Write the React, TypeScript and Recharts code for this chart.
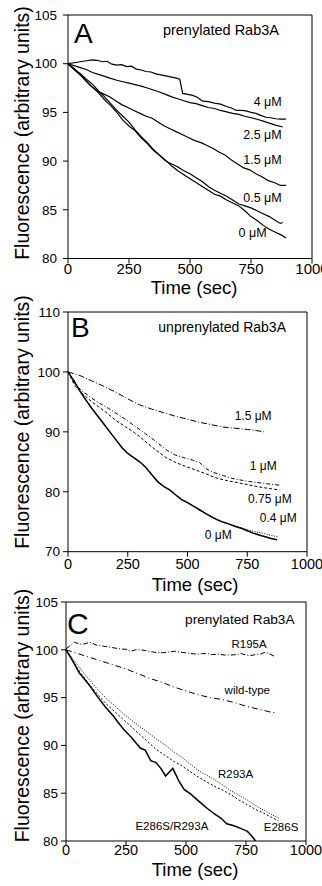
import React from 'react';
import { LineChart, Line, XAxis, YAxis, ReferenceDot, ReferenceLine, Label } from 'recharts';

type P = [number, number];
const toData = (pts: P[]) => pts.map(([t, v]) => ({ t, v }));
const FONT = '"Liberation Sans", Arial, Helvetica, sans-serif';

const xTicks = [0, 250, 500, 750, 1000];

// ---------- Panel A: prenylated Rab3A ----------
const aYTicks = [80, 85, 90, 95, 100, 105];
const a4uM: P[] = [[0,100],[25,100.1],[50,100.2],[75,100.3],[100,100.4],[120,100.35],[140,100.2],[160,100.25],[180,99.95],[200,99.85],[220,99.9],[240,99.7],[260,99.75],[280,99.45],[300,99.35],[320,99.2],[340,99.15],[360,98.95],[380,98.85],[400,98.75],[420,98.65],[440,98.55],[458,98.4],[470,96.95],[490,96.85],[511,96.75],[530,96.55],[552,96.15],[575,96.1],[600,95.95],[625,95.85],[650,95.6],[670,95.45],[690,95.2],[710,95.2],[730,95.15],[750,95.0],[770,94.9],[790,94.7],[811,94.5],[830,94.45],[852,94.35],[870,94.3],[893,94.3]];
const a25uM: P[] = [[0,100],[25,99.8],[50,99.6],[75,99.4],[100,99.1],[125,98.9],[150,98.7],[175,98.5],[200,98.3],[225,98.15],[250,98.0],[275,97.85],[300,97.7],[325,97.5],[350,97.3],[375,97.1],[400,96.85],[425,96.6],[450,96.4],[475,96.2],[500,96.0],[525,95.9],[550,95.7],[575,95.5],[600,95.4],[625,95.2],[650,95.05],[675,94.9],[700,94.8],[725,94.6],[750,94.45],[775,94.3],[800,94.1],[825,93.9],[850,93.7],[880,93.5]];
const a15uM: P[] = [[0,100],[30,99.3],[60,98.6],[90,97.8],[120,97.2],[145,96.9],[170,96.6],[195,96.2],[220,95.8],[245,95.5],[270,95.2],[295,94.9],[320,94.6],[345,94.4],[370,94.0],[395,93.6],[420,93.3],[445,93.0],[470,92.7],[495,92.4],[520,92.1],[545,91.9],[570,91.6],[595,91.3],[620,90.9],[645,90.6],[670,90.1],[695,89.7],[720,89.3],[745,89.1],[770,88.7],[795,88.4],[820,88.0],[845,87.8],[870,87.5],[893,87.5]];
const a05uM: P[] = [[0,100],[25,99.4],[50,99.0],[75,98.4],[100,97.9],[125,97.2],[150,96.6],[175,95.9],[200,95.2],[225,94.6],[250,94.0],[275,93.2],[300,92.5],[325,91.9],[350,91.2],[375,90.6],[400,90.0],[425,89.7],[450,89.4],[475,89.0],[500,88.7],[525,88.3],[550,87.9],[575,87.4],[600,87.0],[625,86.7],[650,86.4],[675,86.0],[700,85.6],[725,85.4],[750,85.2],[775,84.9],[800,84.6],[825,84.3],[850,83.9],[870,83.6],[880,83.7]];
const a0uM: P[] = [[0,100],[25,99.5],[50,98.9],[75,98.2],[100,97.6],[125,97.0],[150,96.3],[175,95.7],[200,95.0],[225,94.2],[250,93.6],[275,93.1],[300,92.4],[325,91.8],[350,91.1],[375,90.6],[400,90.1],[425,89.5],[450,89.0],[475,88.6],[500,88.2],[525,87.8],[550,87.4],[575,87.0],[600,86.6],[625,86.4],[650,86.0],[675,85.7],[700,85.4],[725,84.9],[750,84.3],[775,83.9],[800,83.4],[825,83.0],[850,82.7],[875,82.4],[893,82.1]];

// ---------- Panel B: unprenylated Rab3A ----------
const bYTicks = [70, 80, 90, 100, 110];
const b15uM: P[] = [[0,100],[50,99.4],[100,98.5],[150,97.6],[200,96.6],[250,95.5],[300,94.5],[350,93.8],[400,93.2],[450,92.6],[500,92.1],[550,91.6],[600,91.2],[650,90.8],[700,90.6],[750,90.4],[790,90.2],[820,90.0]];
const b1uM: P[] = [[0,100],[30,97.9],[60,96.8],[100,95.6],[135,94.7],[170,93.9],[205,93.0],[240,92.1],[275,91.1],[310,90.1],[345,89.1],[380,88.0],[415,86.9],[450,86.1],[485,85.7],[520,85.3],[550,84.9],[580,83.8],[610,83.2],[650,82.7],[690,82.2],[730,81.9],[760,81.7],[800,81.5],[840,81.3],[885,81.1]];
const b075uM: P[] = [[0,100],[30,97.6],[60,96.4],[100,95.0],[135,94.0],[170,92.9],[200,91.9],[235,91.0],[270,90.1],[300,89.2],[335,88.0],[370,86.9],[410,85.7],[445,85.0],[480,84.4],[515,83.9],[550,83.4],[590,82.8],[620,82.3],[660,81.9],[700,81.6],[750,81.2],[800,80.8],[850,80.5],[885,80.3]];
const b04uM: P[] = [[0,100],[25,98.6],[50,96.9],[75,95.4],[100,93.9],[125,92.6],[150,91.3],[175,90.0],[200,88.7],[225,87.5],[250,86.4],[275,85.7],[300,85.0],[325,84.1],[350,82.9],[375,81.8],[400,80.9],[425,80.3],[450,79.5],[475,78.8],[500,78.2],[525,77.6],[550,77.0],[575,76.4],[600,75.9],[625,75.4],[650,75.0],[675,74.6],[700,74.3],[725,74.0],[750,73.7],[775,73.4],[800,73.2],[825,73.0],[850,72.7],[880,72.5]];
const b0uM: P[] = [[0,100],[25,98.5],[50,96.8],[75,95.3],[100,93.9],[125,92.6],[150,91.3],[175,90.0],[200,88.7],[225,87.4],[250,86.4],[275,85.7],[300,85.0],[325,84.1],[350,82.9],[375,81.7],[400,80.9],[425,80.3],[450,79.5],[475,78.7],[500,78.2],[525,77.6],[550,77.0],[575,76.4],[600,75.8],[625,75.3],[650,74.9],[675,74.6],[700,74.2],[725,73.9],[750,73.5],[775,73.1],[800,72.8],[825,72.5],[850,72.2],[875,72.0]];

// ---------- Panel C: prenylated Rab3A mutants ----------
const cYTicks = [80, 85, 90, 95, 100, 105];
const cR195A: P[] = [[0,100.1],[20,100.5],[35,100.8],[55,100.6],[75,100.6],[100,100.8],[125,100.5],[150,100.4],[175,100.3],[200,100.2],[225,100.1],[250,100.05],[270,99.85],[290,100.0],[310,100.0],[335,99.9],[355,99.8],[380,99.7],[410,99.7],[435,99.8],[455,99.85],[475,99.75],[495,99.7],[520,99.6],[545,99.55],[570,99.6],[590,99.6],[610,99.5],[635,99.55],[660,99.45],[685,99.45],[710,99.5],[730,99.6],[750,99.45],[770,99.4],[790,99.5],[810,99.55],[830,99.75],[850,99.55],[870,99.3]];
const cWildType: P[] = [[0,100],[50,99.6],[100,99.2],[150,98.8],[200,98.4],[250,98.0],[300,97.5],[350,97.0],[400,96.6],[450,96.1],[500,95.7],[550,95.3],[600,95.0],[650,94.8],[700,94.5],[750,94.1],[800,93.8],[850,93.5],[875,93.4]];
const cR293A: P[] = [[0,100],[30,99.0],[60,98.0],[100,96.8],[130,95.9],[165,95.0],[200,94.2],[235,93.4],[270,92.7],[305,92.0],[340,91.4],[375,90.7],[410,90.1],[445,89.4],[480,88.8],[515,88.1],[550,87.4],[585,86.9],[620,86.4],[655,85.8],[690,85.2],[720,84.8],[755,84.3],[790,83.7],[825,83.2],[855,82.8],[885,82.4]];
const cE286S: P[] = [[0,100],[30,98.8],[60,97.6],[100,96.3],[130,95.4],[165,94.4],[200,93.6],[235,92.8],[270,92.0],[305,91.2],[340,90.4],[375,89.6],[410,89.0],[445,88.4],[480,87.9],[515,87.3],[550,86.7],[585,86.2],[620,85.7],[655,85.3],[690,84.8],[720,84.3],[755,83.8],[790,83.3],[825,82.9],[855,82.5],[885,82.1]];
const cE286SR293A: P[] = [[0,100],[15,99.4],[33,98.6],[55,97.6],[75,97.0],[100,96.2],[131,95.1],[165,94.0],[200,93.0],[214,92.5],[240,91.7],[270,90.9],[290,90.3],[311,89.7],[330,89.5],[353,88.4],[375,88.2],[395,87.6],[415,86.8],[430,87.2],[445,87.6],[470,86.3],[492,85.4],[520,84.9],[547,84.3],[570,83.8],[589,83.4],[620,82.8],[645,82.4],[670,81.8],[700,81.6],[730,81.3],[756,81.0],[775,80.5],[790,80.0]];

const note = (key: string, t: number, v: number, text: string, size: number, anchor: 'start' | 'middle' | 'end' = 'end') => (
  <ReferenceDot
    key={key}
    x={t}
    y={v}
    r={0}
    fill="none"
    stroke="none"
    ifOverflow="visible"
    label={{
      content: (p: any) => {
        const vb = p.viewBox || {};
        const x = vb.x ?? p.x;
        const y = vb.y ?? p.y;
        return (
          <text x={x} y={y} textAnchor={anchor} fontSize={size} fontFamily={FONT} fill="#000">
            {text}
          </text>
        );
      },
    }}
  />
);

const yTitle = (y: number) => (p: any) => (
  <text transform={`translate(29,${y}) rotate(-90)`} textAnchor="middle" fontSize={19.5} fontFamily={FONT} fill="#000">
    Fluorescence (arbitrary units)
  </text>
);
const xTitle = (x: number, y: number) => (p: any) => (
  <text x={x} y={y} textAnchor="middle" fontSize={18.5} fontFamily={FONT} fill="#000">
    Time (sec)
  </text>
);

const lineProps = { dot: false, isAnimationActive: false, type: 'linear' as const, dataKey: 'v', stroke: '#000' };

export default function App() {
  return (
    <div style={{ position: 'absolute', left: 0, top: 0, width: 322, height: 886, background: '#fff', overflow: 'hidden' }}>
      {/* Panel A */}
      <div style={{ position: 'absolute', left: 0, top: 0 }}>
        <LineChart width={322} height={300} margin={{ top: 15, right: 10, bottom: 0, left: 0 }}>
          <XAxis type="number" dataKey="t" domain={[0, 1000]} ticks={xTicks} interval={0} height={41.5}
            tickSize={5} tickMargin={0} axisLine={{ stroke: '#000' }} tickLine={{ stroke: '#000' }}
            tick={{ fill: '#000', fontSize: 15, fontFamily: FONT }}>
            <Label content={xTitle(194, 294)} />
          </XAxis>
          <YAxis type="number" domain={[80, 105]} ticks={aYTicks} interval={0} width={68} allowDataOverflow
            tickSize={5} tickMargin={6} axisLine={{ stroke: '#000' }} tickLine={{ stroke: '#000' }}
            tick={{ fill: '#000', fontSize: 13.5, fontFamily: FONT }}>
            <Label content={yTitle(133)} />
          </YAxis>
          <ReferenceLine y={105} stroke="#000" />
          <ReferenceLine x={1000} stroke="#000" />
          <Line {...lineProps} data={toData(a4uM)} strokeWidth={1.2} />
          <Line {...lineProps} data={toData(a25uM)} strokeWidth={1.2} />
          <Line {...lineProps} data={toData(a15uM)} strokeWidth={1.2} />
          <Line {...lineProps} data={toData(a05uM)} strokeWidth={1.2} />
          <Line {...lineProps} data={toData(a0uM)} strokeWidth={1.2} />
          {note('A', 24.6, 102.09, 'A', 28, 'start')}
          {note('tA', 389, 102.94, 'prenylated Rab3A', 14.5, 'start')}
          {note('a4', 876, 95.64, '4 μM', 12.5)}
          {note('a25', 876, 92.24, '2.5 μM', 12.5)}
          {note('a15', 876, 89.67, '1.5 μM', 12.5)}
          {note('a05', 876, 85.76, '0.5 μM', 12.5)}
          {note('a0', 814, 82.16, '0 μM', 12.5)}
        </LineChart>
      </div>

      {/* Panel B */}
      <div style={{ position: 'absolute', left: 0, top: 290 }}>
        <LineChart width={322} height={310} margin={{ top: 22, right: 15, bottom: 0, left: 0 }}>
          <XAxis type="number" dataKey="t" domain={[0, 1000]} ticks={xTicks} interval={0} height={48.3}
            tickSize={5} tickMargin={2.5} axisLine={{ stroke: '#000' }} tickLine={{ stroke: '#000' }}
            tick={{ fill: '#000', fontSize: 14.5, fontFamily: FONT }}>
            <Label content={xTitle(195, 301)} />
          </XAxis>
          <YAxis type="number" domain={[70, 110]} ticks={bYTicks} interval={0} width={68} allowDataOverflow
            tickSize={5} tickMargin={3} axisLine={{ stroke: '#000' }} tickLine={{ stroke: '#000' }}
            tick={{ fill: '#000', fontSize: 13.5, fontFamily: FONT }}>
            <Label content={yTitle(132)} />
          </YAxis>
          <ReferenceLine y={110} stroke="#000" />
          <ReferenceLine x={1000} stroke="#000" />
          <Line {...lineProps} data={toData(b15uM)} strokeWidth={1} strokeDasharray="6 2 1 2" />
          <Line {...lineProps} data={toData(b1uM)} strokeWidth={1} strokeDasharray="4 2 1 2" />
          <Line {...lineProps} data={toData(b075uM)} strokeWidth={1} strokeDasharray="3 2" />
          <Line {...lineProps} data={toData(b04uM)} strokeWidth={1} strokeDasharray="1 1.5" />
          <Line {...lineProps} data={toData(b0uM)} strokeWidth={1.5} />
          {note('B', 12.6, 105.88, 'B', 28, 'start')}
          {note('tB', 378, 106.58, 'unprenylated Rab3A', 14, 'start')}
          {note('b15', 852, 92.05, '1.5 μM', 12)}
          {note('b1', 873, 83.62, '1 μM', 12)}
          {note('b075', 936, 78.1, '0.75 μM', 12)}
          {note('b04', 957, 74.94, '0.4 μM', 12)}
          {note('b0', 685, 72.19, '0 μM', 12)}
        </LineChart>
      </div>

      {/* Panel C */}
      <div style={{ position: 'absolute', left: 0, top: 580 }}>
        <LineChart width={322} height={306} margin={{ top: 22, right: 16, bottom: 0, left: 0 }}>
          <XAxis type="number" dataKey="t" domain={[0, 1000]} ticks={xTicks} interval={0} height={45}
            tickSize={4} tickMargin={0} axisLine={{ stroke: '#000' }} tickLine={{ stroke: '#000' }}
            tick={{ fill: '#000', fontSize: 14.5, fontFamily: FONT }}>
            <Label content={xTitle(195, 296)} />
          </XAxis>
          <YAxis type="number" domain={[80, 105]} ticks={cYTicks} interval={0} width={66} allowDataOverflow
            tickSize={5} tickMargin={3} axisLine={{ stroke: '#000' }} tickLine={{ stroke: '#000' }}
            tick={{ fill: '#000', fontSize: 13.5, fontFamily: FONT }}>
            <Label content={yTitle(135.5)} />
          </YAxis>
          <ReferenceLine y={105} stroke="#000" />
          <ReferenceLine x={1000} stroke="#000" />
          <Line {...lineProps} data={toData(cR195A)} strokeWidth={1} strokeDasharray="5 2 1 2" />
          <Line {...lineProps} data={toData(cWildType)} strokeWidth={1} strokeDasharray="6 3 1 3" />
          <Line {...lineProps} data={toData(cR293A)} strokeWidth={1} strokeDasharray="1 1.5" />
          <Line {...lineProps} data={toData(cE286S)} strokeWidth={1} strokeDasharray="2 2" />
          <Line {...lineProps} data={toData(cE286SR293A)} strokeWidth={1.5} />
          {note('C', 4.2, 101.65, 'C', 30, 'start')}
          {note('tC', 496, 102.65, 'prenylated Rab3A', 13.7, 'start')}
          {note('c1', 836, 100.19, 'R195A', 11.5)}
          {note('c2', 850, 95.38, 'wild-type', 11.5)}
          {note('c3', 780, 86.59, 'R293A', 11.5)}
          {note('c4', 593, 81.2, 'E286S/R293A', 11.5)}
          {note('c5', 968, 81.05, 'E286S', 11.5)}
        </LineChart>
      </div>
    </div>
  );
}
